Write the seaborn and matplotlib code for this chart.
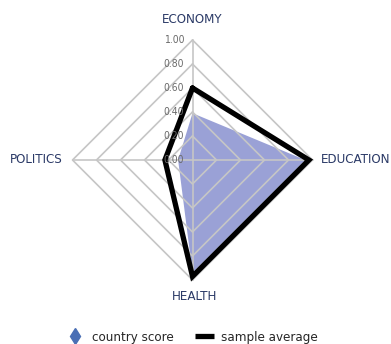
import numpy as np
import pandas as pd
import seaborn as sns
import matplotlib.pyplot as plt
from matplotlib.lines import Line2D

# values
categories = ["ECONOMY", "EDUCATION", "HEALTH", "POLITICS"]
country_score = [0.39, 0.94, 0.94, 0.12]
sample_average = [0.60, 0.97, 0.97, 0.23]
ring_levels = [0.2, 0.4, 0.6, 0.8, 1.0]
tick_labels = ["0.00", "0.20", "0.40", "0.60", "0.80", "1.00"]

sns.set_style("white")
plt.rcParams['font.family'] = ['DejaVu Sans']
plt.rcParams['font.stretch'] = 'condensed'

navy = "#2b3a67"
grid_col = "#c6c6c6"

# one spoke per category, clockwise from the top
angles = np.pi / 2 - np.arange(len(categories)) * 2 * np.pi / len(categories)


def to_xy(vals):
    vals = np.asarray(vals + vals[:1], dtype=float)
    ang = np.append(angles, angles[0])
    return vals * np.cos(ang), vals * np.sin(ang)


fig = plt.figure(figsize=(3.91, 3.44), dpi=100)
ax = fig.add_axes([0, 0, 1, 1])
cx, cy, r = 192.5, 160, 120
ax.set_xlim(-cx / r, (391 - cx) / r)
ax.set_ylim(-(344 - cy) / r, cy / r)
ax.axis("off")

# country score area
x, y = to_xy(country_score)
ax.fill(x, y, color="#8f97d2", alpha=0.9, lw=0, zorder=1)

# diamond grid + spokes
for lev in ring_levels:
    gx, gy = to_xy([lev] * len(categories))
    ax.plot(gx, gy, color=grid_col, lw=1.2, zorder=2)
for a in angles:
    ax.plot([0, np.cos(a)], [0, np.sin(a)], color=grid_col, lw=1.2, zorder=2)

# sample average outline
x, y = to_xy(sample_average)
avg = pd.DataFrame({"x": x, "y": y})
sns.lineplot(data=avg, x="x", y="y", sort=False, estimator=None, color="black",
             lw=3.8, solid_joinstyle="miter", ax=ax, zorder=3, legend=False)
ax.axis("off")

# scale labels along the top spoke
for i, t in enumerate(tick_labels):
    ax.text(-0.07, i * 0.2, t, ha="right", va="center", fontsize=7.5,
            color="#6a6a6a", zorder=4)

# category labels
lab = dict(fontsize=9.5, color=navy, va="center")
ax.text(0, 1.17, categories[0], ha="center", **lab)
ax.text(1.07, 0, categories[1], ha="left", **lab)
ax.text(0.02, -1.14, categories[2], ha="center", **lab)
ax.text(-1.08, 0, categories[3], ha="right", **lab)

handles = [
    Line2D([], [], ls="none", marker="d", markersize=8, color="#4a6fb5"),
    Line2D([], [], color="black", lw=3.8, solid_capstyle="butt"),
]
fig.legend(handles, ["country score", "sample average"], loc="center",
           bbox_to_anchor=(0.49, 1 - 337 / 344), ncol=2, frameon=False,
           fontsize=9.5, handlelength=1.5, handletextpad=0.5, columnspacing=1.6)

fig.savefig("out.png", dpi=100)
